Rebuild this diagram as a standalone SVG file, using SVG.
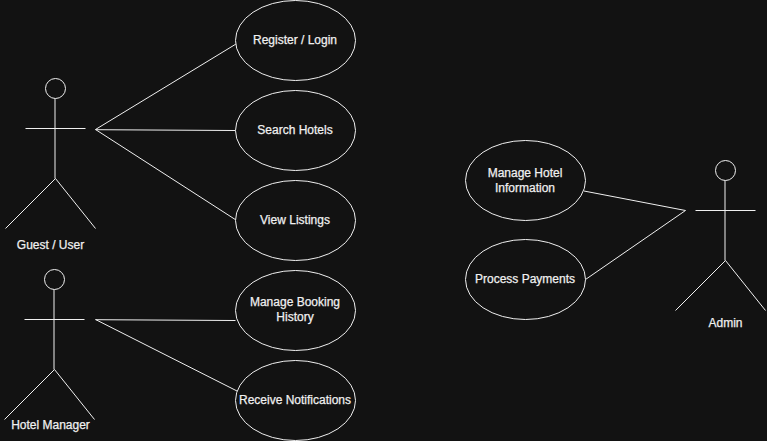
<svg xmlns="http://www.w3.org/2000/svg" width="767" height="441" viewBox="0 0 767 441">
<style>
.s{fill:none;stroke:#f0f0f0;stroke-width:1}
.u{fill:#121212;stroke:#f0f0f0;stroke-width:1}
text{font-family:"Liberation Sans",Arial,sans-serif;font-size:12px;fill:#f0f0f0;text-anchor:middle;stroke:#f0f0f0;stroke-width:.25}
</style>
<defs>
<g id="actor"><circle class="s" cx="30" cy="10" r="10"/><path class="s" d="M29.5 20V100M0 50H60M30 100L-20 150M30 100L70 150"/></g>
</defs>
<rect width="767" height="441" fill="#121212"/>
<g id="connectors" class="s">
<path d="M95.5 129.5L236 44"/>
<path d="M95.5 129.7L235.5 130.5"/>
<path d="M95.5 129.5L236 220"/>
<path d="M95.5 319.7L235.5 320.5"/>
<path d="M95.5 319.5L237 391"/>
<path d="M584 191L685.5 210.5"/>
<path d="M585.5 279.5L685.5 210.5"/>
</g>
<g id="guest"><use href="#actor" x="25.5" y="78.5"/><text x="50.5" y="249">Guest / User</text></g>
<g id="manager"><use href="#actor" x="24.5" y="269.5"/><text x="50.5" y="429">Hotel Manager</text></g>
<g id="admin"><use href="#actor" x="695.5" y="160.5"/><text x="725.5" y="327">Admin</text></g>
<g id="register"><ellipse class="u" cx="295.5" cy="40.5" rx="60" ry="40"/><text x="295" y="44">Register / Login</text></g>
<g id="search"><ellipse class="u" cx="295.5" cy="130.5" rx="60" ry="40"/><text x="295" y="134">Search Hotels</text></g>
<g id="listings"><ellipse class="u" cx="295.5" cy="220.5" rx="60" ry="40"/><text x="295" y="224">View Listings</text></g>
<g id="history"><ellipse class="u" cx="295.5" cy="310.5" rx="60" ry="40"/><text x="295" y="306">Manage Booking</text><text x="295" y="321">History</text></g>
<g id="notifications"><ellipse class="u" cx="295.5" cy="400.5" rx="60" ry="40"/><text x="295" y="404">Receive Notifications</text></g>
<g id="hotelinfo"><ellipse class="u" cx="525.5" cy="180.5" rx="60" ry="40"/><text x="525" y="177">Manage Hotel</text><text x="525" y="192">Information</text></g>
<g id="payments"><ellipse class="u" cx="525.5" cy="279.5" rx="60" ry="40"/><text x="525" y="283">Process Payments</text></g>
</svg>
